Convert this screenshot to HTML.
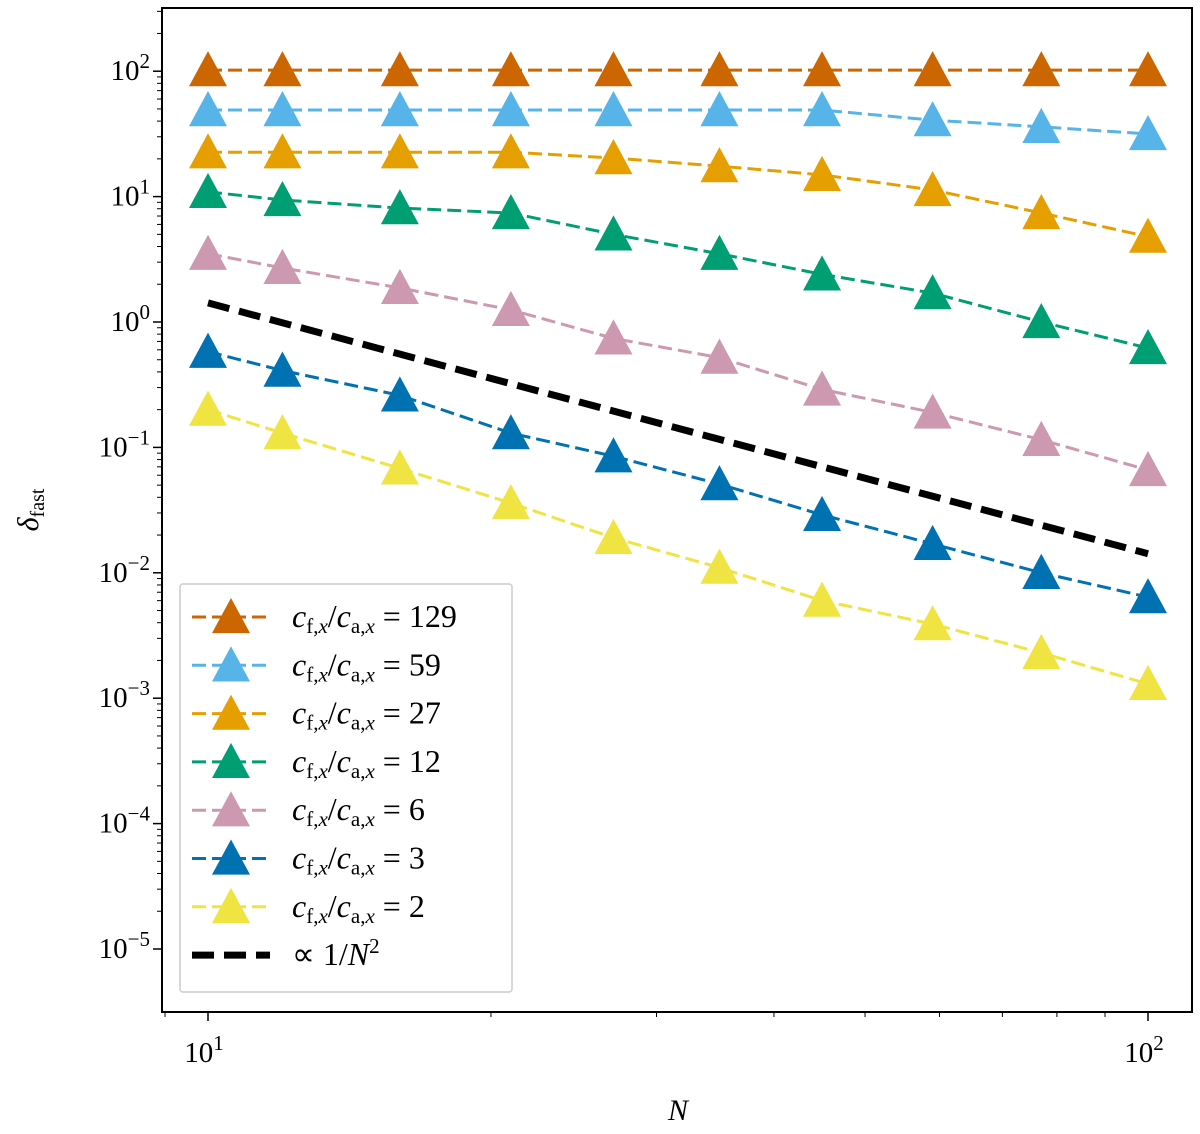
<!DOCTYPE html>
<html><head><meta charset="utf-8"><style>
body{margin:0;background:#fff}
svg text{font-family:"Liberation Serif",serif;fill:#000}
</style></head><body>
<svg id="chart" width="1200" height="1129" xmlns="http://www.w3.org/2000/svg"></svg>
<script>
const nValues=[10,12,16,21,27,35,45,59,77,100];
const s129=[102,102,102,102,102,102,102,102,102,102];
const s59=[49,49,49,49,49,49,49,40.7,36,31.6];
const s27=[22.6,22.6,22.6,22.6,20.3,17.5,14.9,11.3,7.4,4.8];
const s12=[10.9,9.4,8.1,7.4,5.0,3.5,2.4,1.7,1.0,0.62];
const s6=[3.5,2.7,1.87,1.25,0.74,0.52,0.29,0.19,0.115,0.066];
const s3=[0.58,0.41,0.26,0.13,0.085,0.051,0.029,0.017,0.01,0.0064];
const s2=[0.2,0.13,0.068,0.036,0.019,0.011,0.006,0.0039,0.0023,0.0013];
const refN=[10,100];
const refVals=[1.42,0.0142];
const seriesLabels=["129","59","27","12","6","3","2"];
const seriesColors=["#CC6600","#56B4E9","#E69F00","#009E73","#CC99B0","#0072B2","#F0E442"];
const seriesData=[s129,s59,s27,s12,s6,s3,s2];
const yDecades=[2,1,0,-1,-2,-3,-4,-5];
const xDecades=[1,2];

const svg=document.getElementById('chart');
const NS="http://www.w3.org/2000/svg";
const L=162,R=1192,T=8,B=1012;
function X(v){return 208+(Math.log10(v)-1)*940;}
function Y(v){return 322-Math.log10(v)*125.4;}
function mk(tag,attrs,parent){const e=document.createElementNS(NS,tag);for(const k in attrs)e.setAttribute(k,attrs[k]);(parent||svg).appendChild(e);return e;}

for(const d of yDecades){
  const y=Y(Math.pow(10,d));
  const t=mk('line',{x1:L-9,x2:L,y1:y,y2:y,stroke:'#000','stroke-width':1.5});
  
  const lab=mk('text',{x:150,y:y+9,'text-anchor':'end','font-size':29});
  
  lab.innerHTML='10<tspan dy="-12" font-size="21">'+(d<0?'\u2212'+(-d):d)+'</tspan>';
  for(let m=2;m<10;m++){const yy=Y(m*Math.pow(10,d));if(yy>T&&yy<B){const mt=mk('line',{x1:L-5,x2:L,y1:yy,y2:yy,stroke:'#000','stroke-width':1});}}
}
for(const d of xDecades){
  const x=X(Math.pow(10,d));
  const t=mk('line',{x1:x,x2:x,y1:B,y2:B+9,stroke:'#000','stroke-width':1.5});
  
  const lab=mk('text',{x:x-4,y:1062,'text-anchor':'middle','font-size':29});
  
  lab.innerHTML='10<tspan dy="-12" font-size="21">'+d+'</tspan>';
}
for(let m=2;m<10;m++){const x=X(m*10);const mt=mk('line',{x1:x,x2:x,y1:B,y2:B+5,stroke:'#000','stroke-width':1});}
{const x=X(9);const mt=mk('line',{x1:x,x2:x,y1:B,y2:B+5,stroke:'#000','stroke-width':1});}

function tri(cx,cy,color,g){const s=19;const p=mk('polygon',{points:`${cx},${cy-s} ${cx-s},${cy+s*0.85} ${cx+s},${cy+s*0.85}`,fill:color},g);}

const ref=mk('polyline',{points:refN.map((n,i)=>X(n)+','+Y(refVals[i])).join(' '),fill:'none',stroke:'#000','stroke-width':7,'stroke-dasharray':'22,10'});


seriesData.forEach((vals,si)=>{
  const g=mk('g',{});
  
  mk('polyline',{points:nValues.map((n,i)=>X(n)+','+Y(vals[i])).join(' '),fill:'none',stroke:seriesColors[si],'stroke-width':3,'stroke-dasharray':'14,6'},g);
  nValues.forEach((n,i)=>tri(X(n),Y(vals[i]),seriesColors[si],g));
});

const fr=mk('rect',{x:L,y:T,width:R-L,height:B-T,fill:'none',stroke:'#000','stroke-width':2});


const lg=mk('g',{});
mk('rect',{x:180,y:584,width:332,height:408,fill:'#fff',stroke:'#ccc','stroke-width':1.5,rx:3},lg);
seriesLabels.forEach((lab,i)=>{
  const y=617+i*48.3;
  const e=mk('g',{},lg);
  mk('line',{x1:192,x2:270,y1:y,y2:y,stroke:seriesColors[i],'stroke-width':3,'stroke-dasharray':'14,6'},e);
  tri(231,y,seriesColors[i],e);
  const t=mk('text',{x:292,y:y+10,'font-size':32},e);
  t.innerHTML='<tspan font-style="italic">c</tspan><tspan font-size="21" dy="6">f,<tspan font-style="italic">x</tspan></tspan><tspan dy="-6">/</tspan><tspan font-style="italic">c</tspan><tspan font-size="21" dy="6">a,<tspan font-style="italic">x</tspan></tspan><tspan dy="-6"> = '+lab+'</tspan>';
});
{const y=617+7*48.3;const e=mk('g',{},lg);
mk('line',{x1:192,x2:270,y1:y,y2:y,stroke:'#000','stroke-width':7,'stroke-dasharray':'22,10'},e);
const t=mk('text',{x:292,y:y+10,'font-size':32},e);t.innerHTML='\u221D 1/<tspan font-style="italic">N</tspan><tspan font-size="21" dy="-12">2</tspan>';}

const xl=mk('text',{x:678,y:1120,'text-anchor':'middle','font-size':30,'font-style':'italic'});
xl.textContent='N';
const yl=mk('text',{x:0,y:0,'text-anchor':'middle','font-size':30,transform:'translate(38,510) rotate(-90)'});

yl.innerHTML='<tspan font-style="italic">δ</tspan><tspan font-size="20" dy="6">fast</tspan>';
</script>
</body></html>
